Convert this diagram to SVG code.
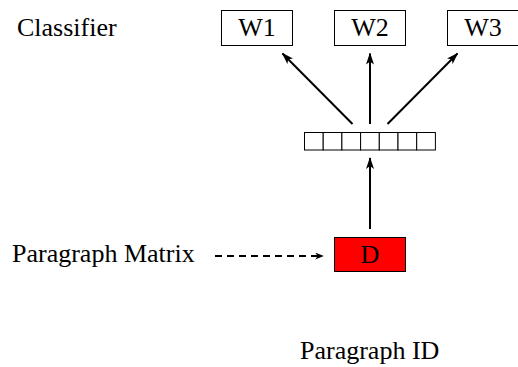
<svg xmlns="http://www.w3.org/2000/svg" width="518" height="367" viewBox="0 0 518 367">
  <style>
    .lbl { font-family: "Liberation Serif", "Times New Roman", serif; font-size: 26px; fill: #000; }
    .box { fill: #fff; stroke: #000; stroke-width: 1; }
    .cell { fill: #fff; stroke: #000; stroke-width: 1; }
    .edge { stroke: #000; stroke-width: 2; fill: none; marker-end: url(#head); }
    .dash { stroke: #000; stroke-width: 2; fill: none; stroke-dasharray: 7 5; marker-end: url(#headSmall); }
  </style>
  <defs>
    <marker id="head" viewBox="0 0 12 8" refX="11" refY="4" markerWidth="12" markerHeight="8" orient="auto" markerUnits="userSpaceOnUse">
      <path d="M0,0 L12,4 L0,8 L3,4 Z" fill="#000"/>
    </marker>
    <marker id="headSmall" viewBox="0 0 10 8" refX="9" refY="4" markerWidth="10" markerHeight="7" orient="auto" markerUnits="userSpaceOnUse">
      <path d="M0,0 L10,4 L0,8 L3,4 Z" fill="#000"/>
    </marker>
  </defs>

  <text class="lbl" x="17" y="36">Classifier</text>

  <g id="w1">
    <rect class="box" x="221.5" y="10.5" width="71" height="35"/>
    <text class="lbl" x="257" y="36" text-anchor="middle">W1</text>
  </g>
  <g id="w2">
    <rect class="box" x="334.5" y="10.5" width="71" height="35"/>
    <text class="lbl" x="370" y="36" text-anchor="middle">W2</text>
  </g>
  <g id="w3">
    <rect class="box" x="447.5" y="10.5" width="71" height="35"/>
    <text class="lbl" x="483" y="36" text-anchor="middle">W3</text>
  </g>

  <g id="vector">
    <rect class="cell" x="304.5" y="132.5" width="18.7" height="17.5"/>
    <rect class="cell" x="323.2" y="132.5" width="18.7" height="17.5"/>
    <rect class="cell" x="341.9" y="132.5" width="18.7" height="17.5"/>
    <rect class="cell" x="360.6" y="132.5" width="18.7" height="17.5"/>
    <rect class="cell" x="379.3" y="132.5" width="18.7" height="17.5"/>
    <rect class="cell" x="398" y="132.5" width="18.7" height="17.5"/>
    <rect class="cell" x="416.7" y="132.5" width="18.7" height="17.5"/>
  </g>

  <g id="d">
    <rect x="334.5" y="237.5" width="71" height="34" fill="#ff0000" stroke="#000" stroke-width="1"/>
    <text class="lbl" x="370" y="263" text-anchor="middle">D</text>
  </g>

  <text class="lbl" x="12" y="262">Paragraph Matrix</text>
  <text class="lbl" x="300" y="359">Paragraph ID</text>

  <g id="connectors">
    <line class="edge" x1="352.5" y1="124" x2="282.5" y2="53.5"/>
    <line class="edge" x1="370" y1="124" x2="370" y2="53.5"/>
    <line class="edge" x1="387.5" y1="124" x2="457.5" y2="53.5"/>
    <line class="edge" x1="370" y1="229" x2="370" y2="158"/>
    <line class="dash" x1="215" y1="256" x2="323" y2="256"/>
  </g>
</svg>
